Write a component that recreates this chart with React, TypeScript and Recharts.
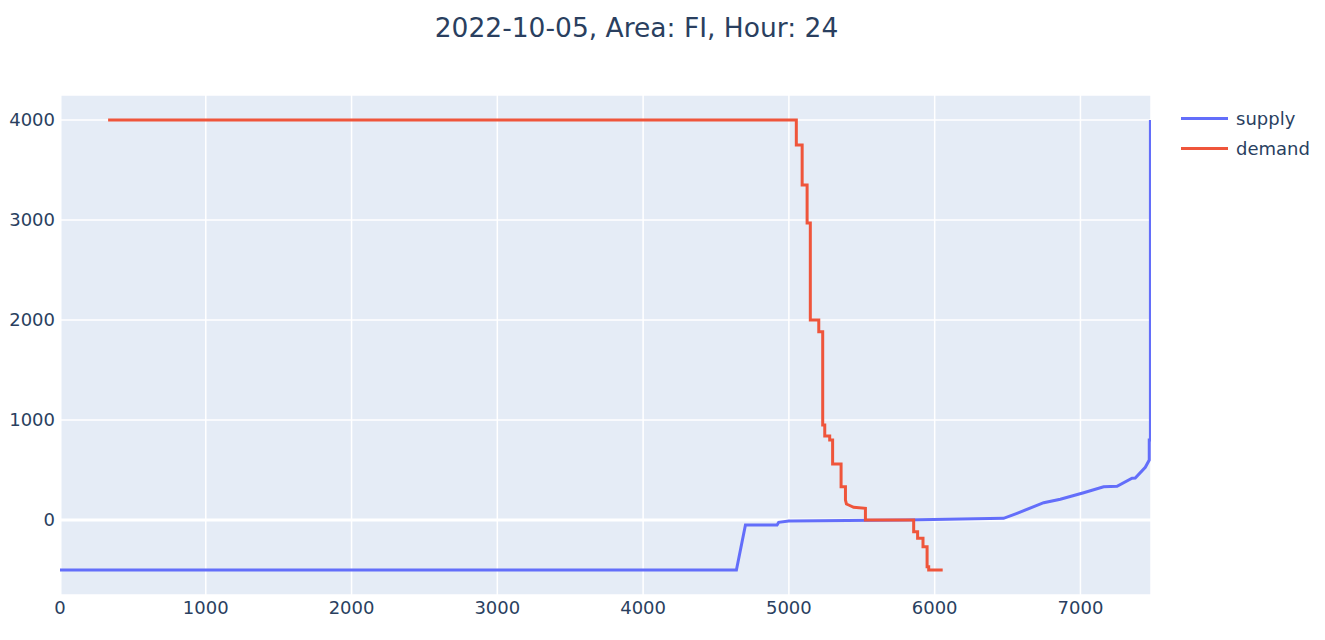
import React from 'react';
import { LineChart, Line, XAxis, YAxis, CartesianGrid, ReferenceLine } from 'recharts';

// supply curve (price vs cumulative volume)
const supplyX = [0, 4640, 4702, 4919, 4930, 4999, 5800, 6473, 6565, 6748, 6862, 7022, 7159, 7251, 7354, 7376, 7445, 7472, 7472, 7480, 7480];
const supplyY = [-500, -500, -50, -50, -23, -10, 0, 17, 67, 173, 207, 273, 333, 337, 417, 420, 527, 600, 800, 800, 4000];

// demand curve
const demandX = [330, 5051, 5051, 5091, 5091, 5125, 5125, 5147, 5147, 5205, 5205, 5232, 5232, 5232, 5246, 5246, 5280, 5280, 5300, 5300, 5358, 5358, 5388, 5388, 5395, 5410, 5444, 5525, 5525, 5856, 5856, 5883, 5883, 5920, 5920, 5948, 5948, 5959, 5959, 6055];
const demandY = [4000, 4000, 3750, 3750, 3350, 3350, 2970, 2970, 2000, 2000, 1883, 1883, 1000, 950, 950, 840, 840, 800, 800, 560, 560, 333, 333, 200, 160, 150, 127, 117, 0, 0, -117, -117, -183, -183, -267, -267, -467, -467, -500, -500];

const xTicks = [0, 1000, 2000, 3000, 4000, 5000, 6000, 7000];
const yTicks = [0, 1000, 2000, 3000, 4000];

const series = [
  { name: 'supply', color: '#636EFA' },
  { name: 'demand', color: '#EF553B' },
];

const TEXT = '#2a3f5f';
const FONT = '"DejaVu Sans", Verdana, sans-serif';

const supply = supplyX.map((x, i) => ({ x, y: supplyY[i] }));
const demand = demandX.map((x, i) => ({ x, y: demandY[i] }));

export default function App() {
  return (
    <div style={{ position: 'absolute', left: 0, top: 0, width: 1325, height: 640, background: '#fff' }}>
      <div
        style={{
          position: 'absolute', left: 0, top: 15, width: 1273, textAlign: 'center',
          fontFamily: FONT, fontSize: 26.5, lineHeight: '26px', color: TEXT,
        }}
      >
        2022-10-05, Area: FI, Hour: 24
      </div>
      <div style={{ position: 'absolute', left: 1181, top: 103, fontFamily: FONT, fontSize: 18, color: TEXT }}>
        {series.map((s) => (
          <div key={s.name} style={{ display: 'flex', alignItems: 'center', height: 30 }}>
            <div style={{ width: 47, height: 3, background: s.color, marginRight: 8 }} />
            <span>{s.name}</span>
          </div>
        ))}
      </div>
      <LineChart width={1325} height={640} margin={{ top: 95, right: 174, bottom: 0, left: 0 }}>
        <CartesianGrid fill="#E5ECF6" stroke="#fff" strokeWidth={1.5} />
        <XAxis
          type="number"
          dataKey="x"
          domain={[0, 7484]}
          ticks={xTicks}
          allowDataOverflow
          height={45}
          tickSize={0}
          tickMargin={6}
          axisLine={false}
          tick={{ fill: TEXT, fontSize: 18, fontFamily: FONT }}
        />
        <YAxis
          type="number"
          dataKey="y"
          domain={[-750, 4250]}
          ticks={yTicks}
          allowDataOverflow
          width={60}
          tickSize={0}
          tickMargin={5}
          axisLine={false}
          tick={{ fill: TEXT, fontSize: 18, fontFamily: FONT }}
        />
        <ReferenceLine y={0} stroke="#fff" strokeWidth={3} />
        <ReferenceLine x={0} stroke="#fff" strokeWidth={3} />
        <Line data={supply} dataKey="y" name="supply" type="linear" stroke={series[0].color} strokeWidth={3} dot={false} isAnimationActive={false} />
        <Line data={demand} dataKey="y" name="demand" type="linear" stroke={series[1].color} strokeWidth={3} dot={false} isAnimationActive={false} />
      </LineChart>
    </div>
  );
}
